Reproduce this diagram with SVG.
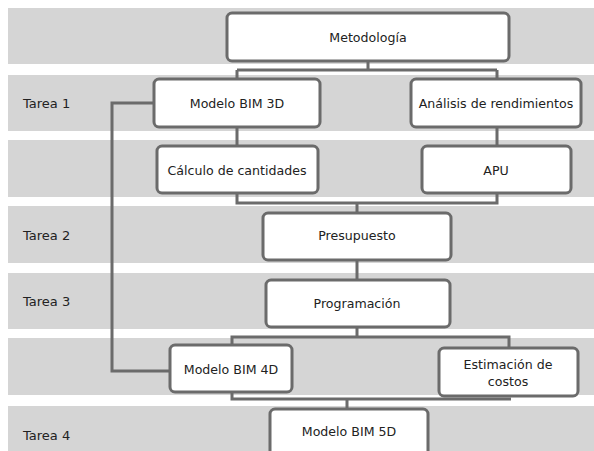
<svg xmlns="http://www.w3.org/2000/svg" width="594" height="451" viewBox="0 0 594 451">
<style>
.band{fill:#d5d5d5}
.box{fill:#ffffff;stroke:#6b6b6b;stroke-width:3}
.lbl{font-family:"DejaVu Sans",Verdana,sans-serif;font-size:12.6px;fill:#222222;text-anchor:middle;dominant-baseline:central}
.tarea{font-family:"DejaVu Sans",Verdana,sans-serif;font-size:13px;fill:#222222;dominant-baseline:central}
.conn{fill:none;stroke:#6b6b6b;stroke-width:3}
</style>
<rect width="594" height="451" fill="#ffffff"/>
<g id="bands">
<rect class="band" x="8" y="8" width="586" height="56"/>
<rect class="band" x="8" y="75" width="586" height="56"/>
<rect class="band" x="8" y="140" width="586" height="57"/>
<rect class="band" x="8" y="206" width="586" height="57"/>
<rect class="band" x="8" y="273" width="586" height="56"/>
<rect class="band" x="8" y="338" width="586" height="57"/>
<rect class="band" x="8" y="406" width="586" height="45"/>
<text class="tarea" x="23" y="103">Tarea 1</text>
<text class="tarea" x="23" y="235">Tarea 2</text>
<text class="tarea" x="23" y="301">Tarea 3</text>
<text class="tarea" x="23" y="435">Tarea 4</text>
</g>
<g id="connectors">
<path class="conn" d="M368 61V70M237 70H497M237 70V79M497 70V79"/>
<path class="conn" d="M237 127V146M497 127V146"/>
<path class="conn" d="M237 193V203H497V193M357 203V213"/>
<path class="conn" d="M357 260V280"/>
<path class="conn" d="M357 327V337M232 345V337H509V348"/>
<path class="conn" d="M232 392V399H511M347 399V409"/>
<path class="conn" d="M154 103H112V371H170"/>
</g>
<g id="n-metodologia"><rect class="box" x="227" y="13" width="282" height="48" rx="5"/><text class="lbl" x="368" y="37">Metodología</text></g>
<g id="n-bim3d"><rect class="box" x="154" y="79" width="166" height="48" rx="5"/><text class="lbl" x="237" y="103">Modelo BIM 3D</text></g>
<g id="n-analisis"><rect class="box" x="411" y="79" width="170" height="48" rx="5"/><text class="lbl" x="496" y="103">Análisis de rendimientos</text></g>
<g id="n-calculo"><rect class="box" x="157" y="146" width="161" height="47" rx="5"/><text class="lbl" x="237" y="170">Cálculo de cantidades</text></g>
<g id="n-apu"><rect class="box" x="422" y="146" width="149" height="47" rx="5"/><text class="lbl" x="496" y="170">APU</text></g>
<g id="n-presupuesto"><rect class="box" x="263" y="213" width="188" height="47" rx="5"/><text class="lbl" x="357" y="235">Presupuesto</text></g>
<g id="n-programacion"><rect class="box" x="266" y="280" width="184" height="47" rx="5"/><text class="lbl" x="357" y="303">Programación</text></g>
<g id="n-bim4d"><rect class="box" x="170" y="345" width="122" height="47" rx="5"/><text class="lbl" x="231" y="369">Modelo BIM 4D</text></g>
<g id="n-estimacion"><rect class="box" x="439" y="348" width="139" height="48" rx="5"/><text class="lbl" x="508" y="364">Estimación de</text><text class="lbl" x="508" y="381">costos</text></g>
<g id="n-bim5d"><rect class="box" x="270" y="409" width="158" height="50" rx="5"/><text class="lbl" x="349" y="431">Modelo BIM 5D</text></g>
</svg>
